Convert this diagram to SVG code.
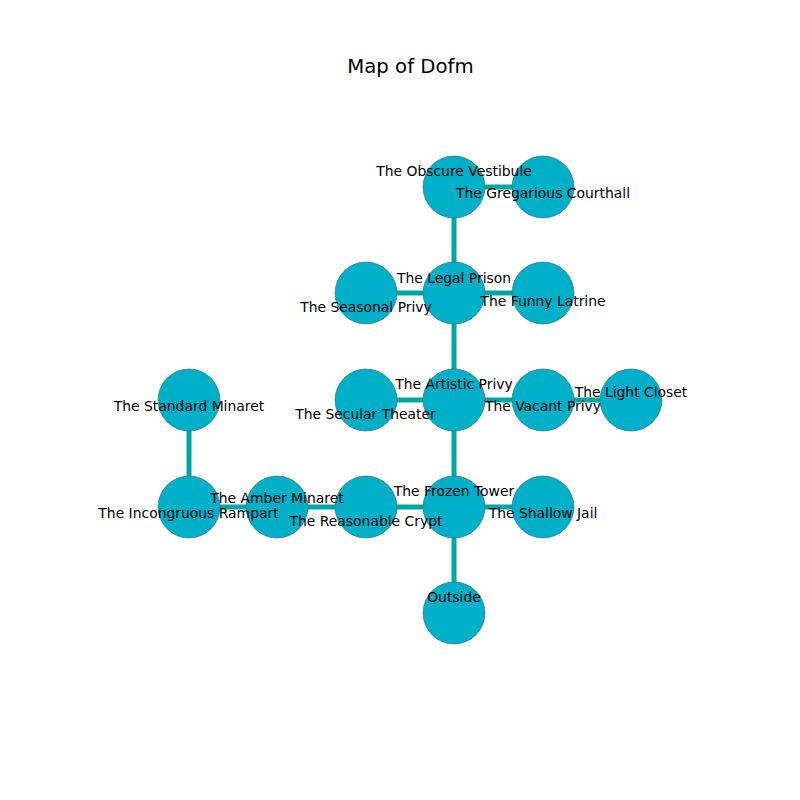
<svg xmlns="http://www.w3.org/2000/svg" width="800" height="800" viewBox="0 0 800 800">
<style>
.n{fill:#00B0C9;stroke:#3f6570;stroke-width:0.6}
.e{stroke:#00A7A7;stroke-width:5;fill:none}
.l{font-family:"DejaVu Sans",sans-serif;font-size:13.9px;fill:#000;text-anchor:middle}
.t{font-family:"DejaVu Sans",sans-serif;font-size:19.7px;fill:#000;text-anchor:middle}
</style>
<rect width="800" height="800" fill="#fff"/>
<text class="t" x="410.5" y="73">Map of Dofm</text>
<g id="connectors">
<line class="e" x1="454" y1="187" x2="543" y2="187"/>
<line class="e" x1="454" y1="187" x2="454" y2="293"/>
<line class="e" x1="366" y1="293" x2="543" y2="293"/>
<line class="e" x1="454" y1="293" x2="454" y2="400"/>
<line class="e" x1="366" y1="400" x2="631" y2="400"/>
<line class="e" x1="454" y1="400" x2="454" y2="613"/>
<line class="e" x1="189" y1="400" x2="189" y2="507"/>
<line class="e" x1="189" y1="507" x2="543" y2="507"/>
</g>
<g id="node-obscure-vestibule"><circle class="n" cx="454" cy="187" r="31"/></g>
<g id="node-gregarious-courthall"><circle class="n" cx="543" cy="187" r="31"/></g>
<g id="node-legal-prison"><circle class="n" cx="454" cy="293" r="31"/></g>
<g id="node-seasonal-privy"><circle class="n" cx="366" cy="293" r="31"/></g>
<g id="node-funny-latrine"><circle class="n" cx="543" cy="293" r="31"/></g>
<g id="node-artistic-privy"><circle class="n" cx="454" cy="400" r="31"/></g>
<g id="node-secular-theater"><circle class="n" cx="366" cy="400" r="31"/></g>
<g id="node-vacant-privy"><circle class="n" cx="543" cy="400" r="31"/></g>
<g id="node-light-closet"><circle class="n" cx="631" cy="400" r="31"/></g>
<g id="node-standard-minaret"><circle class="n" cx="189" cy="400" r="31"/></g>
<g id="node-incongruous-rampart"><circle class="n" cx="189" cy="507" r="31"/></g>
<g id="node-amber-minaret"><circle class="n" cx="277" cy="507" r="31"/></g>
<g id="node-reasonable-crypt"><circle class="n" cx="366" cy="507" r="31"/></g>
<g id="node-frozen-tower"><circle class="n" cx="454" cy="507" r="31"/></g>
<g id="node-shallow-jail"><circle class="n" cx="543" cy="507" r="31"/></g>
<g id="node-outside"><circle class="n" cx="454" cy="613" r="31"/></g>
<g id="labels">
<text class="l" x="454" y="176">The Obscure Vestibule</text>
<text class="l" x="543" y="198">The Gregarious Courthall</text>
<text class="l" x="454" y="282.5">The Legal Prison</text>
<text class="l" x="366" y="312">The Seasonal Privy</text>
<text class="l" x="543" y="305.5">The Funny Latrine</text>
<text class="l" x="454" y="389">The Artistic Privy</text>
<text class="l" x="365.5" y="419">The Secular Theater</text>
<text class="l" x="543" y="411">The Vacant Privy</text>
<text class="l" x="631" y="397">The Light Closet</text>
<text class="l" x="189" y="411">The Standard Minaret</text>
<text class="l" x="188.5" y="518">The Incongruous Rampart</text>
<text class="l" x="277" y="502.5">The Amber Minaret</text>
<text class="l" x="366" y="525.5">The Reasonable Crypt</text>
<text class="l" x="454" y="496">The Frozen Tower</text>
<text class="l" x="543" y="518">The Shallow Jail</text>
<text class="l" x="454" y="602">Outside</text>
</g>
</svg>
